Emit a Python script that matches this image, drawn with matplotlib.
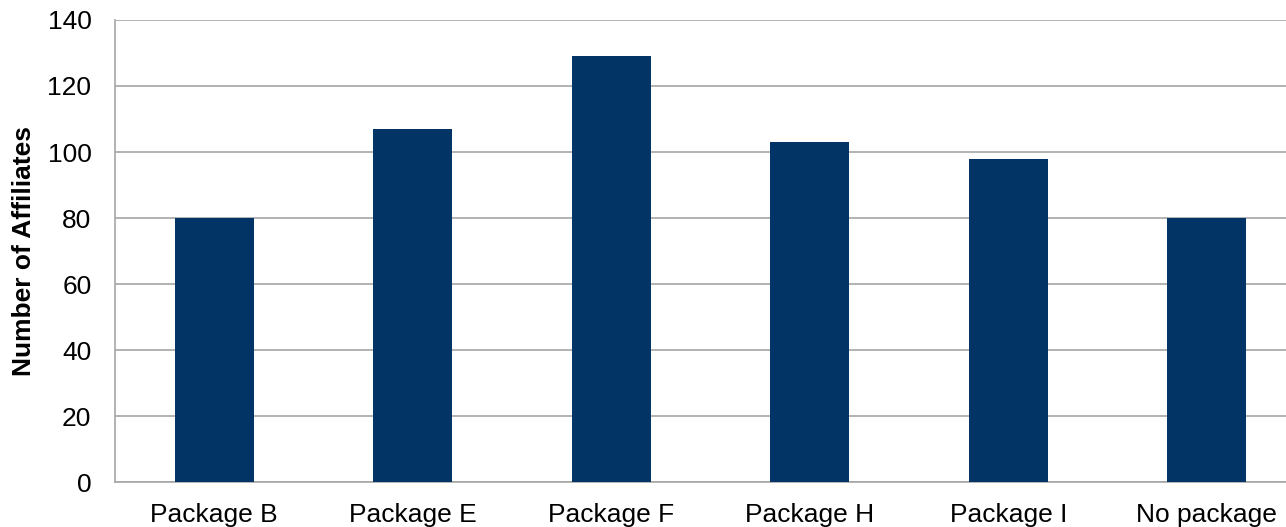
import matplotlib
matplotlib.use("Agg")
import matplotlib.pyplot as plt

categories = ["Package B", "Package E", "Package F", "Package H", "Package I", "No package"]
affiliates = [80, 107, 129, 103, 98, 80]
y_ticks = [0, 20, 40, 60, 80, 100, 120, 140]

plt.rcParams["font.family"] = ["Liberation Sans", "DejaVu Sans"]

fig = plt.figure(figsize=(12.86, 5.27), dpi=100)
# plot area runs slightly past the right edge of the canvas
ax = fig.add_axes([115 / 1286, 45 / 527, 1191 / 1286, 462 / 527])

x = range(len(categories))
ax.bar(x, affiliates, width=0.4, color="#023466", zorder=3)

ax.set_xlim(-0.5, len(categories) - 0.5)
ax.set_ylim(0, 140)
ax.set_yticks(y_ticks)
ax.set_xticks(list(x))
ax.set_xticklabels(categories)
ax.tick_params(axis="both", length=0, labelsize=19, colors="black")
ax.tick_params(axis="y", pad=17)
ax.tick_params(axis="x", pad=15)

ax.grid(axis="y", color="#a6a6a6", linewidth=1.2, zorder=0)
for side in ["top", "right"]:
    ax.spines[side].set_visible(False)
for side in ["left", "bottom"]:
    ax.spines[side].set_color("#a6a6a6")
    ax.spines[side].set_linewidth(1.2)

ax.set_ylabel("Number of Affiliates", fontsize=19, fontweight="bold", labelpad=8)

fig.savefig("out.png", dpi=100)
